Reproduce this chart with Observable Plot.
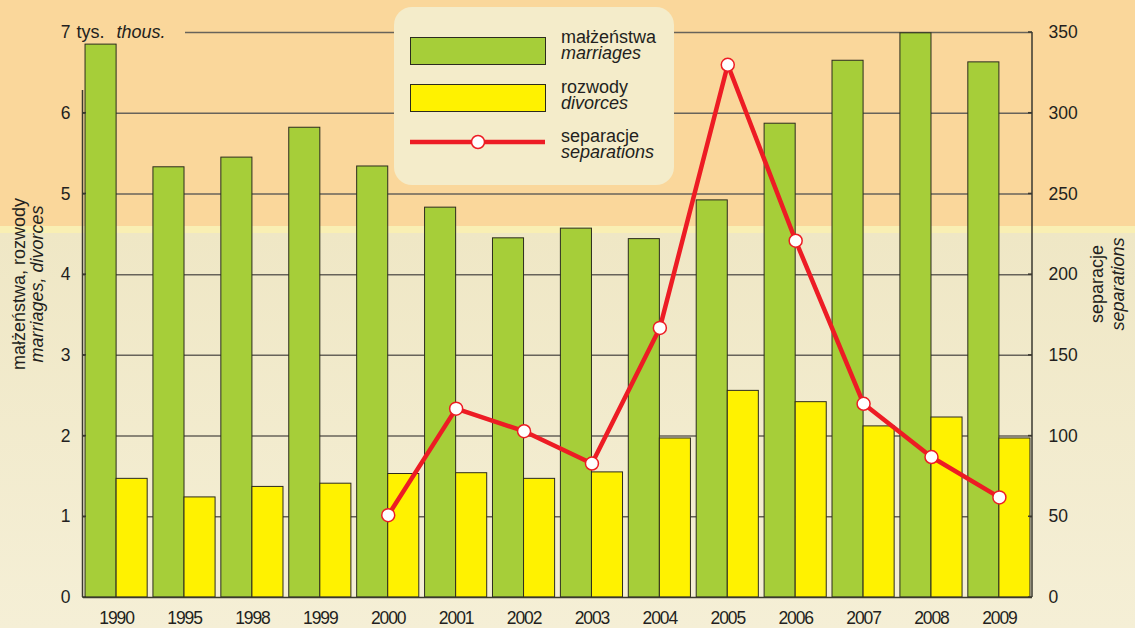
<!DOCTYPE html>
<html><head><meta charset="utf-8">
<script src="https://cdn.jsdelivr.net/npm/d3@7"></script>
<script src="https://cdn.jsdelivr.net/npm/@observablehq/plot@0.6"></script>
<style>
html,body{margin:0;padding:0;}
body{width:1135px;height:628px;overflow:hidden;
 background:linear-gradient(to bottom,#fad79b 0px,#fad79b 226px,#f9efb3 226px,#f9efb3 233px,#efe7c5 233px,#f5efd6 628px);
 font-family:"Liberation Sans",Arial,sans-serif;}
#wrap{position:relative;width:1135px;height:628px;}
#wrap svg{position:absolute;left:0;top:0;}
</style>
</head><body>
<div id="wrap"></div>
<script>
const years = ["1990","1995","1998","1999","2000","2001","2002","2003","2004","2005","2006","2007","2008","2009"];
const marriages = [6.85,5.33,5.45,5.82,5.34,4.83,4.45,4.57,4.44,4.92,5.87,6.65,6.99,6.63];
const divorces = [1.47,1.24,1.37,1.41,1.53,1.54,1.47,1.55,1.97,2.56,2.42,2.12,2.23,1.97];
const separations = [null,null,null,null,51,117,103,83,167,330,221,120,87,62];
const leftTicks = [0,1,2,3,4,5,6,7];
const gridValues = [1,2,3,4,5,6];
const sepPerUnit = 50;

const data = years.map((year,i)=>({year, m: marriages[i], d: divorces[i], s: separations[i]}));
const sepData = data.filter(d => d.s != null);

const W=1135,H=628,mL=83,mR=103,mT=32,mB=31;
const pi=0.085, po=0.03;
const step=(W-mL-mR)/(years.length-pi+2*po);
const bw=step*(1-pi);
const ink="#231f20";
const gridC="#67635a";

const chart = Plot.plot({
  width:W,height:H,marginLeft:mL,marginRight:mR,marginTop:mT,marginBottom:mB,
  style:{background:"transparent",fontFamily:'"Liberation Sans",Arial,sans-serif',fontSize:"17px",color:ink,overflow:"visible"},
  x:{type:"band",domain:years,paddingInner:pi,paddingOuter:po,round:false,label:null},
  y:{domain:[0,7],label:null},
  marks:[
    Plot.ruleY(gridValues,{stroke:gridC,strokeWidth:1.5}),
    Plot.ruleY([7],{insetLeft:102,stroke:gridC,strokeWidth:1.5}),
    Plot.barY(data,{x:"year",y:"m",fill:"#a6ce39",stroke:"#2c2b1e",strokeWidth:1,insetRight:bw/2}),
    Plot.barY(data,{x:"year",y:"d",fill:"#fff200",stroke:"#2c2b1e",strokeWidth:1,insetLeft:bw/2}),
    Plot.ruleY([0],{stroke:"#3a382f",strokeWidth:1.5}),
    Plot.line(sepData,{x:"year",y:d=>d.s/sepPerUnit,stroke:"#ed1c24",strokeWidth:4.5}),
    Plot.dot(sepData,{x:"year",y:d=>d.s/sepPerUnit,r:6.5,fill:"white",stroke:"#ed1c24",strokeWidth:1.5}),
    Plot.axisY(leftTicks,{anchor:"left",tickSize:0,tickPadding:13,tickFormat:d=>String(d),fontSize:17.5,fill:ink}),
    Plot.axisY(leftTicks,{anchor:"right",tickSize:0,tickPadding:16,tickFormat:d=>String(d*sepPerUnit),fontSize:17.5,fill:ink}),
    Plot.axisX({anchor:"bottom",tickSize:0,tickPadding:14,fontSize:17.5,fill:ink}),
    Plot.text([7],{y:d=>d,text:()=>"tys.",frameAnchor:"left",dx:-7,textAnchor:"start",fontSize:18,fill:ink}),
    Plot.text([7],{y:d=>d,text:()=>"thous.",frameAnchor:"left",dx:33,textAnchor:"start",fontSize:18,fontStyle:"italic",fill:ink})
  ]
});
document.getElementById("wrap").appendChild(chart);

// frame lines and small ticks
const y = chart.scale("y");
const svg = d3.select(chart);
svg.selectAll('g[aria-label="x-axis tick label"] text').attr("letter-spacing","-1.1px");
const fg = svg.append("g").attr("stroke","#3a382f").attr("stroke-width",1.5);
fg.append("line").attr("x1",82.5).attr("x2",82.5).attr("y1",y.apply(6.28)).attr("y2",y.apply(0));
fg.append("line").attr("x1",1032).attr("x2",1032).attr("y1",y.apply(7)).attr("y2",y.apply(0));
leftTicks.slice(0,7).forEach(v=>{
  fg.append("line").attr("x1",82).attr("x2",86).attr("y1",y.apply(v)).attr("y2",y.apply(v));
});
leftTicks.forEach(v=>{
  fg.append("line").attr("x1",1028).attr("x2",1032).attr("y1",y.apply(v)).attr("y2",y.apply(v));
});

// overlay: legend and axis titles
const ov = d3.select("#wrap").append("svg").attr("width",W).attr("height",H)
  .style("font-family",'"Liberation Sans",Arial,sans-serif').style("pointer-events","none");
ov.append("rect").attr("x",394).attr("y",7).attr("width",280).attr("height",178).attr("rx",18).attr("fill","#f4ecca");
ov.append("rect").attr("x",410.5).attr("y",37.5).attr("width",135).attr("height",27).attr("fill","#a6ce39").attr("stroke","#2c2b1e");
ov.append("rect").attr("x",410.5).attr("y",84.5).attr("width",135).attr("height",27).attr("fill","#fff200").attr("stroke","#2c2b1e");
ov.append("line").attr("x1",410).attr("x2",545).attr("y1",142).attr("y2",142).attr("stroke","#ed1c24").attr("stroke-width",4.5);
ov.append("circle").attr("cx",478).attr("cy",142).attr("r",6.5).attr("fill","white").attr("stroke","#ed1c24").attr("stroke-width",1.5);
const legendText=[["małżeństwa",43,false],["marriages",59,true],["rozwody",93,false],["divorces",109,true],["separacje",142,false],["separations",158,true]];
legendText.forEach(([t,yy,it])=>{
  ov.append("text").attr("x",561).attr("y",yy).attr("font-size",18).attr("fill",ink)
    .attr("font-style",it?"italic":"normal").text(t);
});
const titles=[["małżeństwa, rozwody",25,284,false],["marriages, divorces",43,284,true],["separacje",1103,284,false],["separations",1124,284,true]];
titles.forEach(([t,xx,yy,it])=>{
  ov.append("text").attr("transform",`translate(${xx},${yy}) rotate(-90)`).attr("text-anchor","middle")
    .attr("font-size",18).attr("fill",ink).attr("font-style",it?"italic":"normal").text(t);
});
</script>
</body></html>
